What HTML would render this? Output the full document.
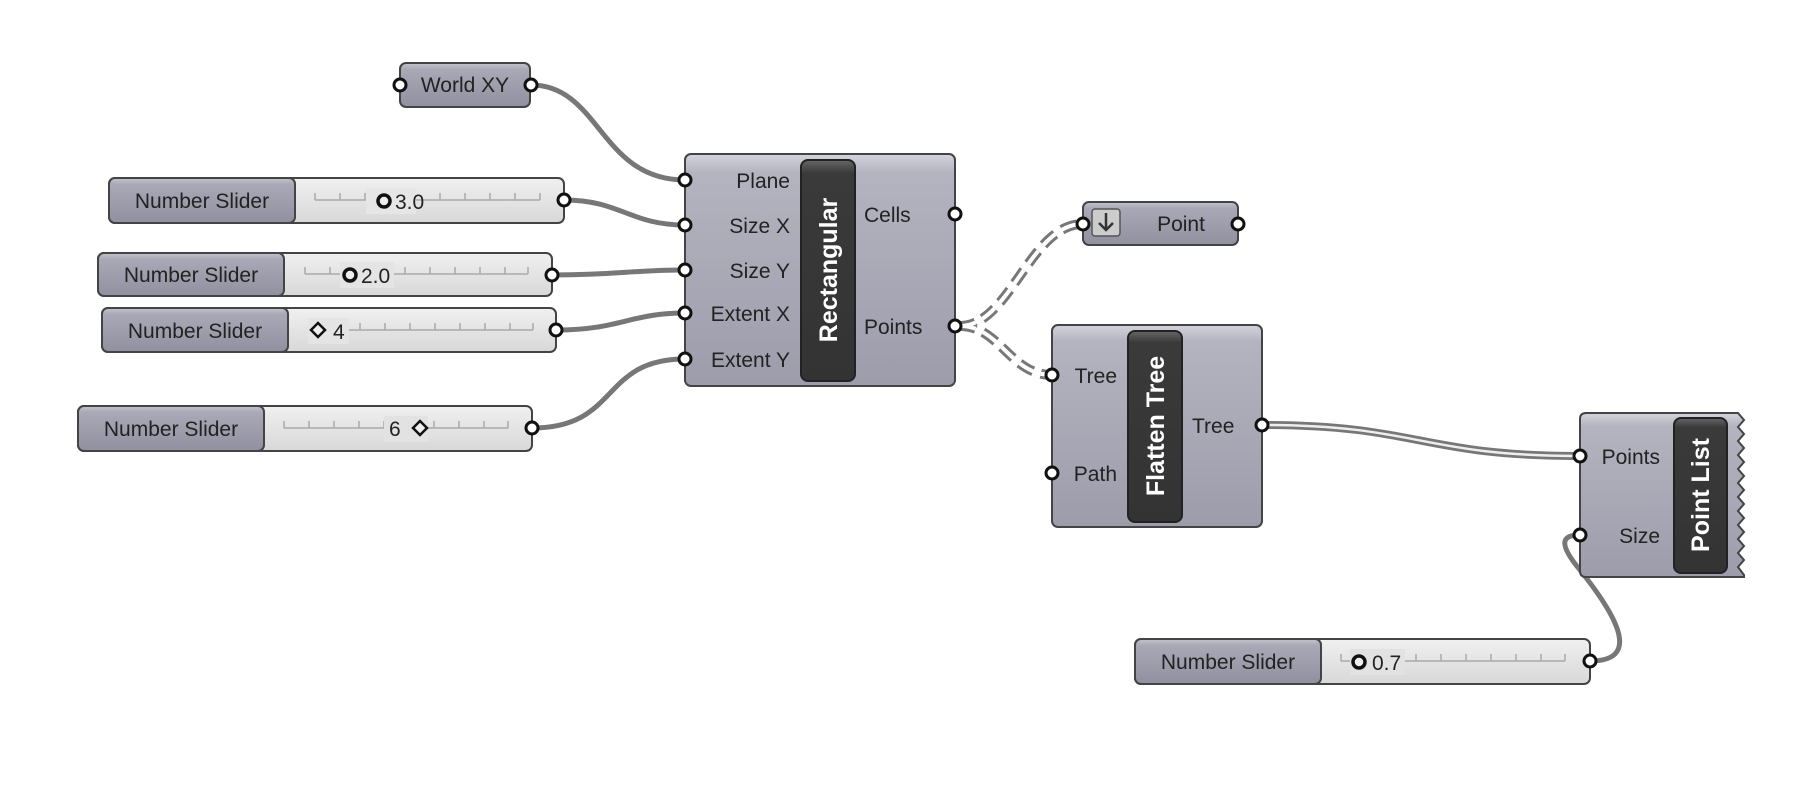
<!DOCTYPE html>
<html><head><meta charset="utf-8"><style>
html,body{margin:0;padding:0;background:#fff;}
svg{display:block;font-family:"Liberation Sans",sans-serif;}
.t{font-size:21px;fill:#222;}
.b{font-size:25px;font-weight:bold;fill:#fff;}
</style></head><body>
<svg width="1800" height="795" viewBox="0 0 1800 795">
<defs>
<linearGradient id="g" x1="0" y1="0" x2="0" y2="1">
<stop offset="0" stop-color="#d4d4dc"/><stop offset="0.08" stop-color="#b4b4c0"/><stop offset="1" stop-color="#9c9cab"/></linearGradient>
<linearGradient id="gl" x1="0" y1="0" x2="0" y2="1">
<stop offset="0" stop-color="#c4c4cc"/><stop offset="0.15" stop-color="#a8a8b6"/><stop offset="1" stop-color="#9090a0"/></linearGradient>
<linearGradient id="gv" x1="0" y1="0" x2="0" y2="1">
<stop offset="0" stop-color="#f0f0f0"/><stop offset="1" stop-color="#d8d8d8"/></linearGradient>
<linearGradient id="gd" x1="0" y1="0" x2="0" y2="1">
<stop offset="0" stop-color="#666"/><stop offset="0.06" stop-color="#3a3a3a"/><stop offset="1" stop-color="#333"/></linearGradient>
</defs>
<g fill="none" stroke="#777" stroke-width="5">
<path d="M531,85 C600,85 600,180 685,180"/>
<path d="M564,200 C620,200 630,225 685,225"/>
<path d="M552,275 C620,275 630,270 685,270"/>
<path d="M556,330 C620,330 630,313 685,313"/>
<path d="M532,428 C620,428 600,359 685,359"/>
<path d="M1590,661 C1640,661 1620,620 1580,570 C1555,540 1565,535 1580,535"/>
</g>
<g fill="none" stroke="#777" stroke-width="10" stroke-dasharray="16 8">
<path d="M960,326 C1010,326 1030,224 1083,224"/>
<path d="M960,326 C1000,326 1010,375 1052,375"/>
</g>
<g fill="none" stroke="#fff" stroke-width="4" stroke-dasharray="16 8">
<path d="M960,326 C1010,326 1030,224 1083,224"/>
<path d="M960,326 C1000,326 1010,375 1052,375"/>
</g>
<path d="M1262,425 C1420,425 1420,456 1580,456" fill="none" stroke="#777" stroke-width="8"/>
<path d="M1262,425 C1420,425 1420,456 1580,456" fill="none" stroke="#eee" stroke-width="2.5"/>
<rect x="400" y="63" width="130" height="44" rx="6" fill="url(#gl)" stroke="#444" stroke-width="2"/>
<text class="t" x="465" y="92" text-anchor="middle">World XY</text>
<g stroke="#444" stroke-width="2">
<rect x="109" y="178" width="455" height="45" rx="6" fill="url(#gv)"/>
<rect x="109" y="178" width="186" height="45" rx="6" fill="url(#gl)"/>
<rect x="98" y="253" width="454" height="43" rx="6" fill="url(#gv)"/>
<rect x="98" y="253" width="186" height="43" rx="6" fill="url(#gl)"/>
<rect x="102" y="308" width="454" height="44" rx="6" fill="url(#gv)"/>
<rect x="102" y="308" width="186" height="44" rx="6" fill="url(#gl)"/>
<rect x="78" y="406" width="454" height="45" rx="6" fill="url(#gv)"/>
<rect x="78" y="406" width="186" height="45" rx="6" fill="url(#gl)"/>
<rect x="1135" y="639" width="455" height="45" rx="6" fill="url(#gv)"/>
<rect x="1135" y="639" width="186" height="45" rx="6" fill="url(#gl)"/>
</g>
<text class="t" x="202" y="208" text-anchor="middle">Number Slider</text>
<text class="t" x="191" y="282" text-anchor="middle">Number Slider</text>
<text class="t" x="195" y="338" text-anchor="middle">Number Slider</text>
<text class="t" x="171" y="436" text-anchor="middle">Number Slider</text>
<text class="t" x="1228" y="669" text-anchor="middle">Number Slider</text>
<g stroke="#aaa" stroke-width="1.5" fill="none">
<path d="M315,200 H540 M315,193 v7 M340,193 v7 M365,193 v7 M390,193 v7 M415,193 v7 M440,193 v7 M465,193 v7 M490,193 v7 M515,193 v7 M540,193 v7"/>
<path d="M305,274 H528 M305,267 v7 M330,267 v7 M355,267 v7 M380,267 v7 M405,267 v7 M430,267 v7 M455,267 v7 M480,267 v7 M505,267 v7 M528,267 v7"/>
<path d="M310,330 H533 M310,323 v7 M335,323 v7 M360,323 v7 M385,323 v7 M410,323 v7 M435,323 v7 M460,323 v7 M485,323 v7 M510,323 v7 M533,323 v7"/>
<path d="M284,428 H508 M284,421 v7 M309,421 v7 M334,421 v7 M359,421 v7 M384,421 v7 M409,421 v7 M434,421 v7 M459,421 v7 M484,421 v7 M508,421 v7"/>
<path d="M1341,661 H1565 M1341,654 v7 M1366,654 v7 M1391,654 v7 M1416,654 v7 M1441,654 v7 M1466,654 v7 M1491,654 v7 M1516,654 v7 M1541,654 v7 M1565,654 v7"/>
</g>
<rect x="366" y="188" width="50" height="26" fill="#e6e6e6"/>
<circle cx="384" cy="201" r="6" fill="#eee" stroke="#111" stroke-width="3.5"/>
<text class="t" x="395" y="209">3.0</text>
<rect x="340" y="262" width="54" height="26" fill="#e4e4e4"/>
<circle cx="350" cy="275" r="6" fill="#eee" stroke="#111" stroke-width="3.5"/>
<text class="t" x="361" y="283">2.0</text>
<rect x="308" y="318" width="41" height="26" fill="#e4e4e4"/>
<path d="M318,323 l7,7 l-7,7 l-7,-7 z" fill="#eee" stroke="#111" stroke-width="2.5"/>
<text class="t" x="333" y="339">4</text>
<rect x="384" y="416" width="44" height="26" fill="#e2e2e2"/>
<path d="M420,421 l7,7 l-7,7 l-7,-7 z" fill="#eee" stroke="#111" stroke-width="2.5"/>
<text class="t" x="389" y="436">6</text>
<rect x="1350" y="649" width="55" height="26" fill="#e2e2e2"/>
<circle cx="1359" cy="662" r="6" fill="#eee" stroke="#111" stroke-width="3.5"/>
<text class="t" x="1372" y="670">0.7</text>
<rect x="685" y="154" width="270" height="232" rx="6" fill="url(#g)" stroke="#444" stroke-width="2"/>
<rect x="801" y="160" width="54" height="221" rx="7" fill="url(#gd)" stroke="#222" stroke-width="2"/>
<text class="b" transform="translate(837,270) rotate(-90)" text-anchor="middle">Rectangular</text>
<g text-anchor="end">
<text class="t" x="790" y="188">Plane</text>
<text class="t" x="790" y="233">Size X</text>
<text class="t" x="790" y="278">Size Y</text>
<text class="t" x="790" y="321">Extent X</text>
<text class="t" x="790" y="367">Extent Y</text>
</g>
<text class="t" x="864" y="222">Cells</text>
<text class="t" x="864" y="334">Points</text>
<rect x="1083" y="202" width="155" height="43" rx="6" fill="url(#gl)" stroke="#444" stroke-width="2"/>
<rect x="1092" y="209" width="28" height="27" rx="3" fill="#ccc" stroke="#555" stroke-width="1.5"/>
<path d="M1106,213 v17 M1099,223 l7,7 l7,-7" stroke="#333" stroke-width="2.5" fill="none"/>
<text class="t" x="1181" y="231" text-anchor="middle">Point</text>
<rect x="1052" y="325" width="210" height="202" rx="6" fill="url(#g)" stroke="#444" stroke-width="2"/>
<rect x="1128" y="331" width="54" height="191" rx="7" fill="url(#gd)" stroke="#222" stroke-width="2"/>
<text class="b" transform="translate(1164,426) rotate(-90)" text-anchor="middle">Flatten Tree</text>
<text class="t" x="1117" y="383" text-anchor="end">Tree</text>
<text class="t" x="1117" y="481" text-anchor="end">Path</text>
<text class="t" x="1192" y="433">Tree</text>
<path d="M1586,413 H1738 l6,7 l-6,7 l6,7 l-6,7 l6,7 l-6,7 l6,7 l-6,7 l6,7 l-6,7 l6,7 l-6,7 l6,7 l-6,7 l6,7 l-6,7 l6,7 l-6,7 l6,7 l-6,7 l6,7 l-6,7 l6,8 V577 H1586 q-6,0 -6,-6 V419 q0,-6 6,-6 z" fill="url(#g)" stroke="#444" stroke-width="2"/>
<rect x="1674" y="418" width="53" height="155" rx="7" fill="url(#gd)" stroke="#222" stroke-width="2"/>
<text class="b" transform="translate(1709,495) rotate(-90)" text-anchor="middle">Point List</text>
<text class="t" x="1660" y="464" text-anchor="end">Points</text>
<text class="t" x="1660" y="543" text-anchor="end">Size</text>
<g fill="#fff" stroke="#111" stroke-width="3">
<circle cx="400" cy="85" r="6"/><circle cx="531" cy="85" r="6"/>
<circle cx="564" cy="200" r="6"/><circle cx="552" cy="275" r="6"/><circle cx="556" cy="330" r="6"/><circle cx="532" cy="428" r="6"/><circle cx="1590" cy="661" r="6"/>
<circle cx="685" cy="180" r="6"/><circle cx="685" cy="225" r="6"/><circle cx="685" cy="270" r="6"/><circle cx="685" cy="313" r="6"/><circle cx="685" cy="359" r="6"/>
<circle cx="955" cy="214" r="6"/><circle cx="955" cy="326" r="6"/>
<circle cx="1083" cy="224" r="6"/><circle cx="1238" cy="224" r="6"/>
<circle cx="1052" cy="375" r="6"/><circle cx="1052" cy="473" r="6"/><circle cx="1262" cy="425" r="6"/>
<circle cx="1580" cy="456" r="6"/><circle cx="1580" cy="535" r="6"/>
</g>
</svg>
</body></html>
